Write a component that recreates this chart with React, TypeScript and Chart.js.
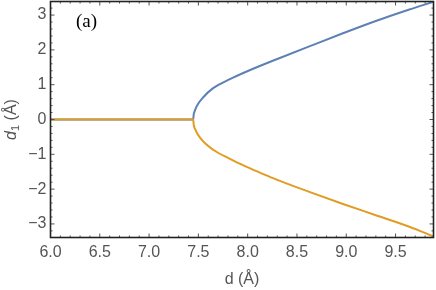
import React, { useEffect, useRef } from "react";
import { Chart, registerables } from "chart.js";

Chart.register(...registerables);

const blueX = [6.0, 7.0, 7.448, 7.452, 7.46, 7.483, 7.55, 7.65, 7.82, 7.99, 8.16, 8.32, 8.625, 8.96, 9.3, 9.64, 9.885];
const blueY = [0, 0, 0, 0.13, 0.22, 0.38, 0.64, 0.9, 1.16, 1.38, 1.58, 1.76, 2.1, 2.47, 2.83, 3.16, 3.38];
const orangeX = [6.0, 7.0, 7.448, 7.452, 7.466, 7.516, 7.651, 7.82, 7.99, 8.16, 8.287, 8.625, 8.96, 9.3, 9.64, 9.885];
const orangeY = [0, 0, 0, -0.13, -0.27, -0.52, -0.87, -1.13, -1.36, -1.57, -1.72, -2.08, -2.42, -2.75, -3.08, -3.36];
const xTicks = [6.0, 6.5, 7.0, 7.5, 8.0, 8.5, 9.0, 9.5];
const yTicks = [-3, -2, -1, 0, 1, 2, 3];
const xRange = [6.0, 9.885];
const yRange = [-3.39, 3.39];

export default function App() {
  const ref = useRef<HTMLCanvasElement>(null);
  useEffect(() => {
    document.body.style.margin = "0";
    const canvas = ref.current!;
    const gray = "#555555";
    const framePlugin = {
      id: "frame",
      afterDraw(chart: any) {
        const ctx = chart.ctx;
        const { left, right, top, bottom } = chart.chartArea;
        const xs = chart.scales.x;
        const ys = chart.scales.y;
        ctx.save();
        ctx.strokeStyle = gray;
        ctx.lineWidth = 1;
        for (let i = 0; i <= 40; i++) {
          const v = 6 + i * 0.1;
          if (v > xRange[1] + 1e-9) break;
          const major = i % 5 === 0;
          const len = major ? 4 : 2;
          const px = xs.getPixelForValue(v);
          ctx.beginPath();
          ctx.moveTo(px, bottom);
          ctx.lineTo(px, bottom - len);
          ctx.moveTo(px, top);
          ctx.lineTo(px, top + len);
          ctx.stroke();
        }
        for (let i = -17; i <= 17; i++) {
          const v = i * 0.2;
          if (Math.abs(v) > yRange[1]) continue;
          const major = i % 5 === 0;
          const len = major ? 4 : 2;
          const py = ys.getPixelForValue(v);
          ctx.beginPath();
          ctx.moveTo(left, py);
          ctx.lineTo(left + len, py);
          ctx.moveTo(right, py);
          ctx.lineTo(right - len, py);
          ctx.stroke();
        }
        ctx.strokeStyle = "#222222";
        ctx.lineWidth = 1.6;
        ctx.strokeRect(left, top, right - left, bottom - top);
        ctx.fillStyle = gray;
        ctx.font = "16px 'Liberation Sans', Arial, sans-serif";
        ctx.textAlign = "center";
        ctx.textBaseline = "middle";
        ctx.fillText("d (Å)", (left + right) / 2, 280);
        ctx.translate(12, (top + bottom) / 2);
        ctx.rotate(-Math.PI / 2);
        const fItal = "italic 16px 'Liberation Sans', Arial, sans-serif";
        const fNorm = "16px 'Liberation Sans', Arial, sans-serif";
        const fSub = "11px 'Liberation Sans', Arial, sans-serif";
        ctx.font = fItal;
        const w1 = ctx.measureText("d").width;
        ctx.font = fSub;
        const w2 = ctx.measureText("1").width;
        ctx.font = fNorm;
        const w3 = ctx.measureText(" (Å)").width;
        let x0 = -(w1 + w2 + w3) / 2;
        ctx.textAlign = "left";
        ctx.textBaseline = "middle";
        ctx.font = fItal;
        ctx.fillText("d", x0, 0);
        x0 += w1;
        ctx.font = fSub;
        ctx.fillText("1", x0, 4);
        x0 += w2;
        ctx.font = fNorm;
        ctx.fillText(" (Å)", x0, 0);
        ctx.restore();
        ctx.save();
        ctx.fillStyle = "#000";
        ctx.font = "19px 'Liberation Serif', 'Times New Roman', serif";
        ctx.textAlign = "left";
        ctx.textBaseline = "middle";
        ctx.fillText("(a)", 76, 22);
        ctx.restore();
      },
    };
    const chart = new Chart(canvas, {
      type: "line",
      data: {
        datasets: [
          {
            label: "orange",
            data: orangeX.map((x, i) => ({ x, y: orangeY[i] })),
            borderColor: "#E19C24",
            borderWidth: 2,
            pointRadius: 0,
            cubicInterpolationMode: "monotone",
            fill: false,
          },
          {
            label: "blue",
            data: blueX.map((x, i) => ({ x, y: blueY[i] })),
            borderColor: "#5E81B5",
            borderWidth: 2,
            pointRadius: 0,
            cubicInterpolationMode: "monotone",
            fill: false,
          },
        ],
      },
      options: {
        animation: false,
        responsive: false,
        maintainAspectRatio: false,
        layout: { padding: { top: 1.5, right: 2.5, left: 0, bottom: 0 } },
        plugins: { legend: { display: false }, tooltip: { enabled: false } },
        scales: {
          x: {
            type: "linear",
            min: xRange[0],
            max: xRange[1],
            grid: { display: false, drawTicks: false },
            border: { display: false },
            afterBuildTicks: (s: any) => {
              s.ticks = xTicks.map((v) => ({ value: v }));
            },
            afterFit: (s: any) => {
              s.height = 52.5;
              s.paddingLeft = 0;
              s.paddingRight = 0;
            },
            ticks: {
              color: gray,
              padding: 5,
              maxRotation: 0,
              autoSkip: false,
              font: { size: 16, family: "'Liberation Sans', Arial, sans-serif" },
              callback: (v: any) => Number(v).toFixed(1),
            },
          },
          y: {
            type: "linear",
            min: yRange[0],
            max: yRange[1],
            grid: { display: false, drawTicks: false },
            border: { display: false },
            afterBuildTicks: (s: any) => {
              s.ticks = yTicks.map((v) => ({ value: v }));
            },
            afterFit: (s: any) => {
              s.width = 50.5;
              s.paddingTop = 0;
              s.paddingBottom = 0;
            },
            ticks: {
              color: gray,
              padding: 4,
              autoSkip: false,
              font: { size: 16, family: "'Liberation Sans', Arial, sans-serif" },
              callback: (v: any) => (Number(v) < 0 ? "\u2212" + Math.abs(Number(v)) : String(v)),
            },
          },
        },
      },
      plugins: [framePlugin],
    } as any);
    return () => chart.destroy();
  }, []);
  return (
    <div style={{ width: 436, height: 290 }}>
      <canvas ref={ref} width={436} height={290} style={{ width: 436, height: 290, display: "block" }} />
    </div>
  );
}
